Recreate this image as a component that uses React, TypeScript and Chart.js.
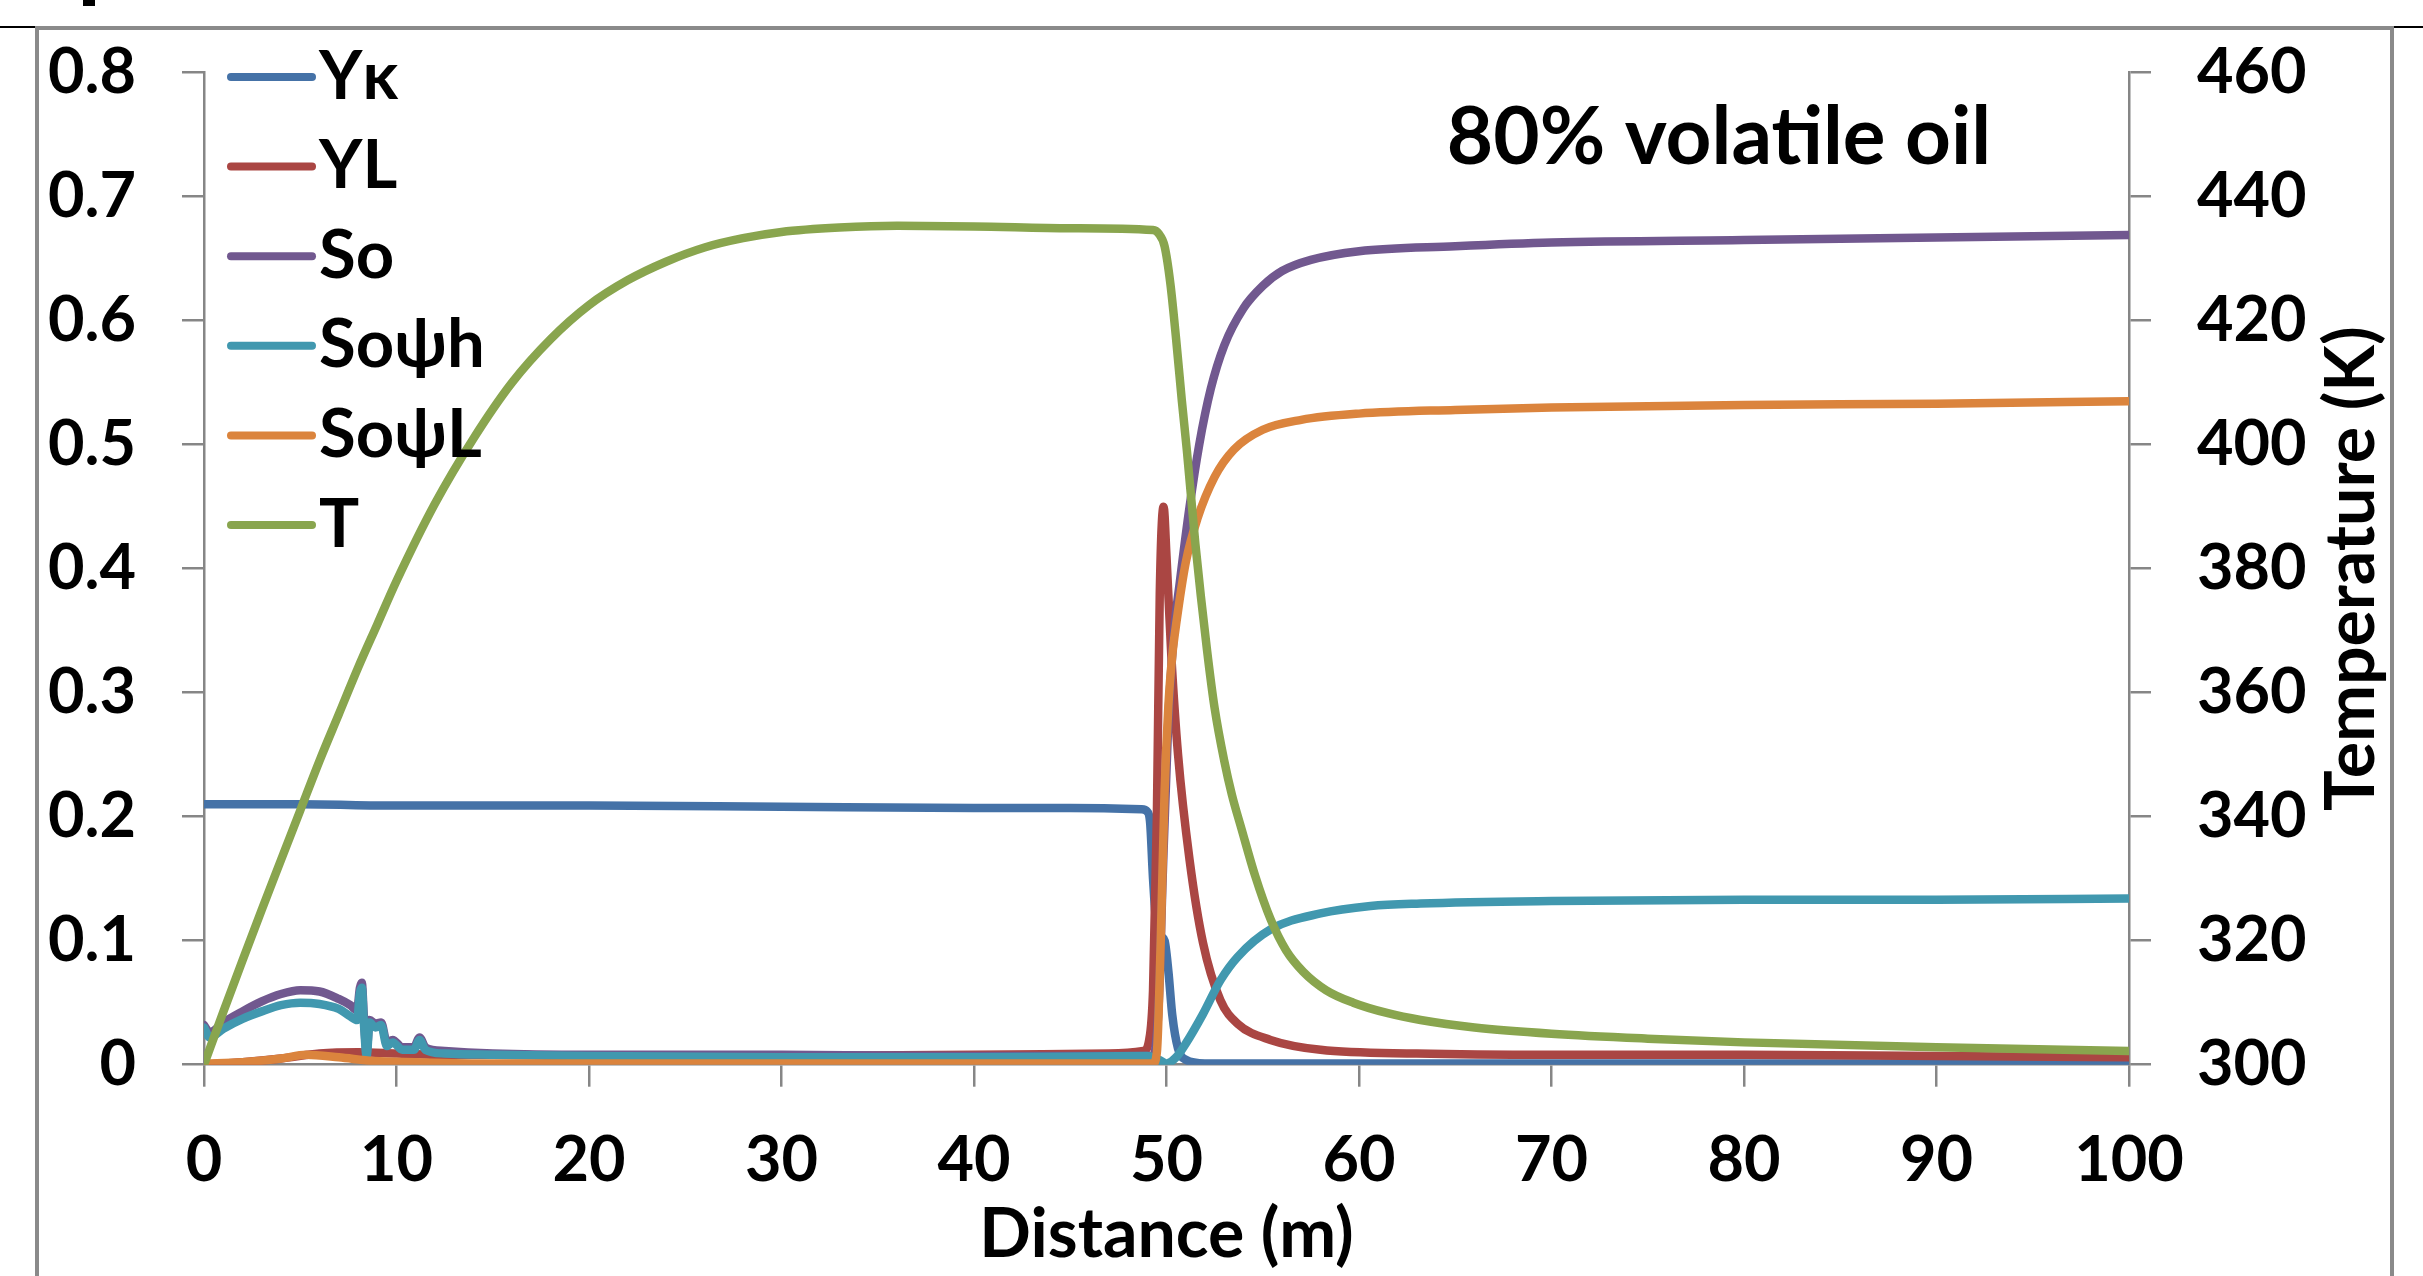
import React, { useEffect, useRef } from "react";
import { Chart, registerables } from "chart.js";

Chart.register(...registerables);

const W = 2423;
const H = 1276;
const FONT = "Lato, 'Open Sans', 'DejaVu Sans', sans-serif";

// ---- data ----
const seriesNames = ["Y\u03BA", "YL", "So", "So\u03C8h", "So\u03C8L", "T"];
const seriesColors = ["#4572A7", "#AA4643", "#71588F", "#4198AF", "#DB843D", "#89A54E"];

const xTitle = "Distance (m)";
const rightTitle = "Temperature (K)";
const noteText = "80% volatile oil";

const ykX = [0, 5, 10, 20, 30, 40, 45, 48.7, 49.0, 49.15, 49.3, 49.5, 49.9, 50.1, 50.3, 50.6, 51.0, 52, 60, 80, 100];
const ykY = [0.21, 0.21, 0.209, 0.209, 0.208, 0.207, 0.207, 0.206, 0.204, 0.195, 0.15, 0.11, 0.1, 0.075, 0.04, 0.013, 0.004, 0.001, 0.001, 0.001, 0.001];

const ylX = [0, 2, 4, 6, 8, 10, 12, 15, 20, 30, 40, 47, 48.8, 49.1, 49.3, 49.5, 49.65, 49.85, 50.0, 50.25, 50.6, 51.2, 51.9, 52.8, 53.7, 55.4, 58, 63, 70, 80, 90, 100];
const ylY = [0, 0.002, 0.005, 0.009, 0.01, 0.009, 0.008, 0.008, 0.007, 0.007, 0.008, 0.009, 0.011, 0.02, 0.06, 0.2, 0.38, 0.45, 0.41, 0.33, 0.25, 0.165, 0.098, 0.052, 0.033, 0.02, 0.012, 0.009, 0.008, 0.008, 0.007, 0.006];

const soX = [0, 0.3, 1, 2, 3, 4, 5, 6, 7, 7.6, 7.95, 8.1, 8.2, 8.3, 8.45, 8.6, 8.9, 9.2, 9.5, 9.8, 10.3, 10.9, 11.2, 11.5, 12.5, 15, 20, 30, 40, 49.3, 49.6, 49.8, 50.1, 50.4, 50.7, 51.2, 51.7, 52.3, 53, 54, 55, 56, 57.5, 60, 65, 70, 80, 90, 100];
const soY = [0.032, 0.026, 0.034, 0.043, 0.051, 0.057, 0.06, 0.059, 0.053, 0.048, 0.044, 0.062, 0.066, 0.04, 0.01, 0.036, 0.033, 0.034, 0.018, 0.02, 0.014, 0.014, 0.022, 0.014, 0.011, 0.009, 0.008, 0.008, 0.007, 0.007, 0.05, 0.15, 0.28, 0.35, 0.39, 0.45, 0.5, 0.545, 0.58, 0.61, 0.628, 0.64, 0.649, 0.656, 0.66, 0.663, 0.665, 0.667, 0.669];

const sohX = [0, 0.3, 1, 2, 3, 4, 5, 6, 7, 7.6, 7.95, 8.1, 8.2, 8.3, 8.45, 8.6, 8.9, 9.2, 9.5, 9.8, 10.3, 10.9, 11.2, 11.5, 12.5, 15, 20, 30, 40, 49.0, 49.6, 50.0, 50.5, 51.0, 51.9, 52.8, 53.7, 55.4, 58, 60.6, 63.2, 70, 80, 90, 100];
const sohY = [0.03, 0.022, 0.029, 0.037, 0.043, 0.048, 0.05, 0.049, 0.045, 0.039, 0.036, 0.058, 0.062, 0.035, 0.007, 0.034, 0.03, 0.032, 0.015, 0.018, 0.012, 0.012, 0.02, 0.012, 0.009, 0.008, 0.007, 0.006, 0.006, 0.007, 0.004, 0.001, 0.006, 0.017, 0.041, 0.068, 0.087, 0.109, 0.122, 0.128, 0.13, 0.132, 0.133, 0.133, 0.134];

const solX = [0, 2, 4, 5.3, 7, 8.8, 11, 15, 20, 30, 40, 49.3, 49.5, 49.7, 49.9, 50.1, 50.3, 50.5, 51, 51.6, 52.5, 53.5, 55, 57, 60, 65, 70, 80, 90, 100];
const solY = [0.001, 0.002, 0.005, 0.008, 0.006, 0.003, 0.002, 0.001, 0.001, 0.001, 0.001, 0.001, 0.01, 0.1, 0.22, 0.29, 0.33, 0.355, 0.405, 0.44, 0.474, 0.496, 0.512, 0.52, 0.525, 0.528, 0.53, 0.532, 0.533, 0.535];

const tX = [0, 1, 2, 3, 4, 5, 6, 7, 8, 9, 10, 12, 14, 16, 18, 20, 22, 24, 26, 28, 30, 33, 36, 40, 45, 49.3, 49.6, 49.9, 50.2, 50.5, 50.8, 51.06, 51.5, 52.1, 52.5, 53, 53.4, 53.9, 54.6, 55.4, 56.2, 57.1, 58.3, 59.7, 61.5, 63.2, 66, 70, 75, 80, 90, 100];
const tY = [300, 308.5, 316.8, 325, 333, 341, 349, 356.5, 364, 371, 378, 390.5, 401, 410, 417, 422.5, 426.5, 429.5, 431.8, 433.3, 434.3, 435, 435.3, 435.2, 434.9, 434.6, 434, 432, 426, 417, 407, 399, 384, 367, 357.5, 349, 343.5, 338, 330.5, 323.5, 318.5, 315, 312, 310, 308.3, 307.2, 306, 305, 304.2, 303.6, 302.8, 302.2];

const leftTicks = [0, 0.1, 0.2, 0.3, 0.4, 0.5, 0.6, 0.7, 0.8];
const rightTicks = [300, 320, 340, 360, 380, 400, 420, 440, 460];
const xTicks = [0, 10, 20, 30, 40, 50, 60, 70, 80, 90, 100];

const seriesX = [ykX, ylX, soX, sohX, solX, tX];
const seriesY = [ykY, ylY, soY, sohY, solY, tY];

// ---- layout ----
const AREA_LEFT = 204;
const AREA_RIGHT = 2129;
const PAD_TOP = 72.6;
const AREA_BOTTOM = 1064.7;
const AXIS_COLOR = "#868686";
const TICK_FONT = { family: FONT, size: 63, weight: "bold" as const };
const TITLE_FONT = { family: FONT, size: 68, weight: "bold" as const };

const overlayPlugin = {
  id: "overlay",
  afterDatasetsDraw(chart: any) {
    const { ctx, chartArea } = chart;
    ctx.save();
    // legend
    chart.data.datasets.forEach((ds: any, i: number) => {
      const y = chartArea.top + 4.4 + i * 89.6;
      ctx.strokeStyle = ds.borderColor;
      ctx.lineWidth = 8;
      ctx.lineCap = "round";
      ctx.beginPath();
      ctx.moveTo(chartArea.left + 27, y);
      ctx.lineTo(chartArea.left + 108, y);
      ctx.stroke();
      ctx.fillStyle = "#000";
      ctx.font = `bold 67px ${FONT}`;
      ctx.textAlign = "left";
      ctx.textBaseline = "middle";
      ctx.fillText(ds.label, chartArea.left + 115, y);
    });
    // note
    ctx.fillStyle = "#000";
    ctx.font = `bold 80px ${FONT}`;
    ctx.textAlign = "center";
    ctx.textBaseline = "middle";
    ctx.fillText(noteText, chartArea.left + 1515, chartArea.top + 66);
    // right axis title
    ctx.translate(2352, (chartArea.top + chartArea.bottom) / 2);
    ctx.rotate(-Math.PI / 2);
    ctx.font = `bold 68px ${FONT}`;
    ctx.fillText(rightTitle, 0, 0);
    ctx.restore();
  },
};

export default function App() {
  const ref = useRef<HTMLCanvasElement>(null);
  useEffect(() => {
    const canvas = ref.current!;
    const datasets = seriesNames.map((name, i) => ({
      label: name,
      data: seriesX[i].map((x, j) => ({ x, y: seriesY[i][j] })),
      borderColor: seriesColors[i],
      backgroundColor: seriesColors[i],
      borderWidth: 8.5,
      borderCapStyle: "round" as const,
      borderJoinStyle: "round" as const,
      pointRadius: 0,
      cubicInterpolationMode: "monotone" as const,
      fill: false,
      yAxisID: i === 5 ? "y1" : "y",
      order: 6 - i,
    }));
    const chart = new Chart(canvas, {
      type: "line",
      data: { datasets },
      plugins: [overlayPlugin],
      options: {
        animation: false,
        responsive: false,
        devicePixelRatio: 1,
        layout: { padding: { top: PAD_TOP, left: 0, right: 0, bottom: 0 } },
        plugins: { legend: { display: false }, tooltip: { enabled: false } },
        scales: {
          x: {
            type: "linear",
            min: 0,
            max: 100,
            afterBuildTicks: (s: any) => { s.ticks = xTicks.map((v) => ({ value: v })); },
            ticks: { color: "#000", font: TICK_FONT, padding: 36, maxRotation: 0, autoSkip: false },
            grid: { drawOnChartArea: false, drawTicks: true, tickLength: 22, color: AXIS_COLOR, lineWidth: 2.5 },
            border: { display: true, color: AXIS_COLOR, width: 2.5 },
            title: { display: true, text: xTitle, color: "#000", font: TITLE_FONT, padding: { top: 0, bottom: 0 } },
            afterFit: (s: any) => { s.height = H - AREA_BOTTOM; },
          },
          y: {
            type: "linear",
            position: "left",
            min: 0,
            max: 0.8,
            afterBuildTicks: (s: any) => { s.ticks = leftTicks.map((v) => ({ value: v })); },
            ticks: { color: "#000", font: TICK_FONT, padding: 46, callback: (v: any) => String(Math.round(Number(v) * 10) / 10) },
            grid: { drawOnChartArea: false, drawTicks: true, tickLength: 22, color: AXIS_COLOR, lineWidth: 2.5 },
            border: { display: true, color: AXIS_COLOR, width: 2.5 },
            afterFit: (s: any) => { s.width = AREA_LEFT; s.paddingTop = 0; s.paddingBottom = 0; },
          },
          y1: {
            type: "linear",
            position: "right",
            min: 300,
            max: 460,
            afterBuildTicks: (s: any) => { s.ticks = rightTicks.map((v) => ({ value: v })); },
            ticks: { color: "#000", font: TICK_FONT, padding: 46 },
            grid: { drawOnChartArea: false, drawTicks: true, tickLength: 22, color: AXIS_COLOR, lineWidth: 2.5 },
            border: { display: true, color: AXIS_COLOR, width: 2.5 },
            afterFit: (s: any) => { s.width = W - AREA_RIGHT; s.paddingTop = 0; s.paddingBottom = 0; },
          },
        },
      },
    });
    let alive = true;
    if ((document as any).fonts && (document as any).fonts.load) {
      (document as any).fonts.load(`bold 63px Lato`).then(() => { if (alive) chart.update(); }).catch(() => {});
    }
    return () => { alive = false; chart.destroy(); };
  }, []);

  return (
    <div style={{ position: "fixed", left: 0, top: 0, width: W, height: H, overflow: "hidden", background: "#fff" }}>
      <div style={{ position: "absolute", left: 0, top: 26, width: W, height: 2, background: "#000" }} />
      <div
        style={{
          position: "absolute",
          left: 35,
          top: 26,
          width: 2394 - 35,
          height: 1400,
          boxSizing: "border-box",
          borderTop: "4px solid #8a8a8a",
          borderLeft: "4px solid #8a8a8a",
          borderRight: "4px solid #8a8a8a",
          background: "#fff",
        }}
      />
      <div style={{ position: "absolute", left: 83, top: 0, width: 12, height: 6, background: "#000" }} />
      <canvas ref={ref} width={W} height={H} style={{ position: "absolute", left: 0, top: 0, width: W, height: H }} />
    </div>
  );
}
